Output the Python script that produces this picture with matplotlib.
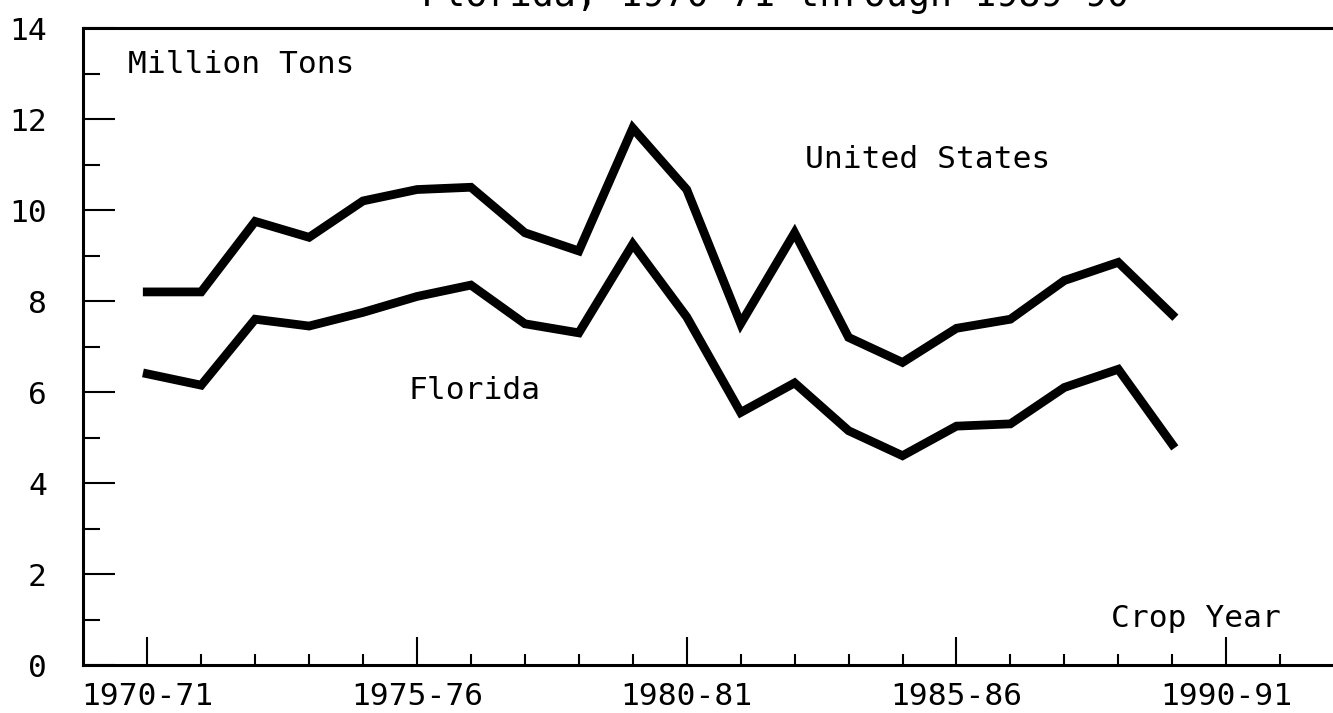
import matplotlib
matplotlib.use("Agg")
import matplotlib.pyplot as plt

# Crop years (first year of each season) and production, million tons
years = list(range(1970, 1990))
united_states = [8.2, 8.2, 9.75, 9.4, 10.2, 10.45, 10.5, 9.5, 9.1, 11.8,
                 10.45, 7.5, 9.5, 7.2, 6.65, 7.4, 7.6, 8.45, 8.85, 7.7]
florida = [6.4, 6.15, 7.6, 7.45, 7.75, 8.1, 8.35, 7.5, 7.3, 9.25,
           7.65, 5.55, 6.2, 5.15, 4.6, 5.25, 5.3, 6.1, 6.5, 4.85]

major_years = [1970, 1975, 1980, 1985, 1990]
major_labels = ["1970-71", "1975-76", "1980-81", "1985-86", "1990-91"]
minor_years = [y for y in range(1971, 1992) if y not in major_years]
y_major = [0, 2, 4, 6, 8, 10, 12, 14]
y_minor = [1, 3, 5, 7, 9, 11, 13]

plt.rcParams['font.family'] = ['DejaVu Sans Mono']
fs = 22.5

fig = plt.figure(figsize=(13.33, 7.13), dpi=100)
ax = fig.add_axes([0.0623, 0.0673, 0.9377, 0.8934])

ax.plot(years, united_states, color='black', lw=6.3, solid_joinstyle='miter')
ax.plot(years, florida, color='black', lw=6.3, solid_joinstyle='miter')

ax.set_xlim(1968.81, 1991.98)
ax.set_ylim(0, 14)

ax.set_xticks(major_years)
ax.set_xticklabels(major_labels)
ax.set_xticks(minor_years, minor=True)
ax.set_yticks(y_major)
ax.set_yticks(y_minor, minor=True)

ax.tick_params(axis='x', which='major', direction='in', length=20, width=1.5,
               pad=12, labelsize=fs)
ax.tick_params(axis='x', which='minor', direction='in', length=8, width=1.5)
ax.tick_params(axis='y', which='major', direction='in', length=23, width=1.5,
               pad=26, labelsize=fs)
ax.tick_params(axis='y', which='minor', direction='in', length=12, width=1.5)

ax.spines['right'].set_visible(False)
for s in ['left', 'bottom', 'top']:
    ax.spines[s].set_linewidth(2.2)

ax.text(1969.65, 13.19, "Million Tons", fontsize=fs, ha='left', va='center')
ax.text(1991.02, 1.03, "Crop Year", fontsize=fs, ha='right', va='center')
ax.text(1982.2, 11.1, "United States", fontsize=fs, ha='left', va='center')
ax.text(1974.84, 6.04, "Florida", fontsize=fs, ha='left', va='center')

# title line, mostly cut off at the top edge of the scan
fig.text(775 / 1333, 0.991, "Florida, 1970-71 through 1989-90",
         fontsize=26.5, ha='center', va='baseline')

fig.savefig("out.png", dpi=100)
